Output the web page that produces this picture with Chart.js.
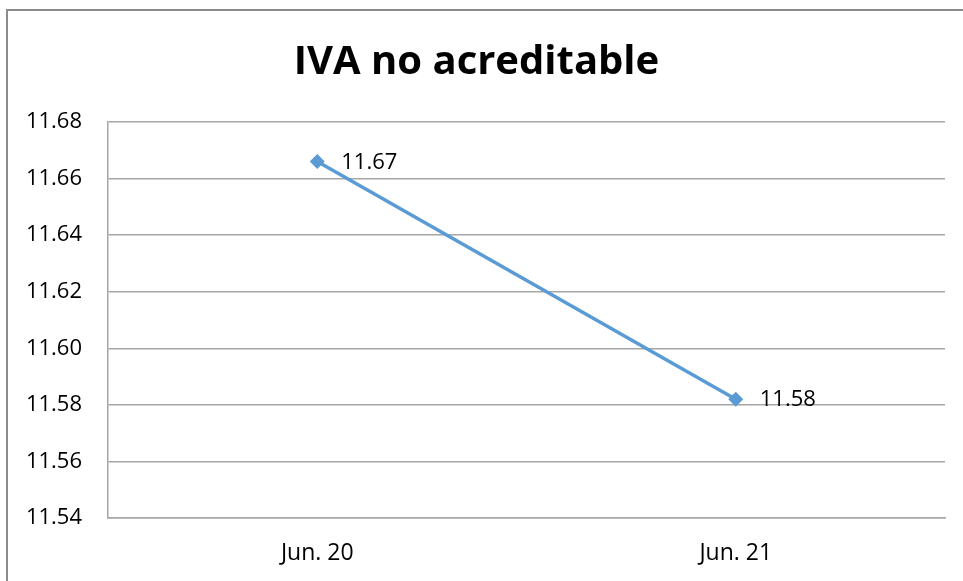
<!DOCTYPE html>
<html>
<head>
<meta charset="utf-8">
<script src="https://cdn.jsdelivr.net/npm/chart.js@4"></script>
<style>
  html, body { margin: 0; padding: 0; background: #fff; }
  #wrap { width: 963px; height: 581px; }
</style>
</head>
<body>
<div id="wrap"><canvas id="chart" width="963" height="581"></canvas></div>
<script>
const categories = ["Jun. 20", "Jun. 21"];
const ivaValues = [11.666, 11.582];
const valueLabels = ["11.67", "11.58"];
const yTicks = [11.54, 11.56, 11.58, 11.60, 11.62, 11.64, 11.66, 11.68];

const lineColor = "#5b9bd5";
const gridColor = "#a6a6a6";
const fontFamily = "'Open Sans', 'Noto Sans', sans-serif";

// outer frame, like the spreadsheet chart border
const framePlugin = {
  id: "frame",
  beforeDraw(chart) {
    const ctx = chart.ctx;
    ctx.save();
    ctx.fillStyle = "#fff";
    ctx.fillRect(0, 0, chart.width, chart.height);
    ctx.strokeStyle = "#8c8c8c";
    ctx.lineWidth = 2;
    ctx.strokeRect(7, 10, chart.width + 20, chart.height + 20);
    ctx.restore();
  }
};

// value labels to the right of each point
const valueLabelPlugin = {
  id: "valueLabels",
  afterDatasetsDraw(chart) {
    const ctx = chart.ctx;
    const meta = chart.getDatasetMeta(0);
    ctx.save();
    ctx.font = "22px " + fontFamily;
    ctx.fillStyle = "#000";
    ctx.textAlign = "left";
    ctx.textBaseline = "middle";
    meta.data.forEach((pt, i) => {
      ctx.fillText(valueLabels[i], pt.x + 24, pt.y + 1);
    });
    ctx.restore();
  }
};

new Chart(document.getElementById("chart"), {
  type: "line",
  data: {
    labels: categories,
    datasets: [{
      data: ivaValues,
      borderColor: lineColor,
      backgroundColor: lineColor,
      borderWidth: 3.5,
      pointStyle: "rectRot",
      pointRadius: 7.5,
      pointBorderWidth: 0,
      tension: 0
    }]
  },
  options: {
    responsive: false,
    animation: false,
    layout: { padding: { left: 8, right: 18, top: 39, bottom: 0 } },
    plugins: {
      legend: { display: false },
      tooltip: { enabled: false },
      title: {
        display: true,
        text: "IVA no acreditable",
        color: "#000",
        font: { family: fontFamily, size: 40, weight: "bold" },
        padding: { top: 0, bottom: 35 }
      }
    },
    scales: {
      x: {
        offset: true,
        grid: { display: false, drawTicks: false },
        border: { display: true, color: gridColor, width: 1.5 },
        ticks: { color: "#000", padding: 22, font: { family: fontFamily, size: 23 } },
        afterFit(scale) { scale.height = 63; }
      },
      y: {
        min: 11.54,
        max: 11.68,
        afterBuildTicks(scale) { scale.ticks = yTicks.map(v => ({ value: v })); },
        grid: { color: gridColor, lineWidth: 1.5, drawTicks: false },
        border: { display: true, color: gridColor, width: 1.5 },
        ticks: {
          color: "#000",
          padding: 26,
          font: { family: fontFamily, size: 22 },
          callback: v => v.toFixed(2)
        },
        afterFit(scale) { scale.width = 100; }
      }
    }
  },
  plugins: [framePlugin, valueLabelPlugin]
});
</script>
</body>
</html>
